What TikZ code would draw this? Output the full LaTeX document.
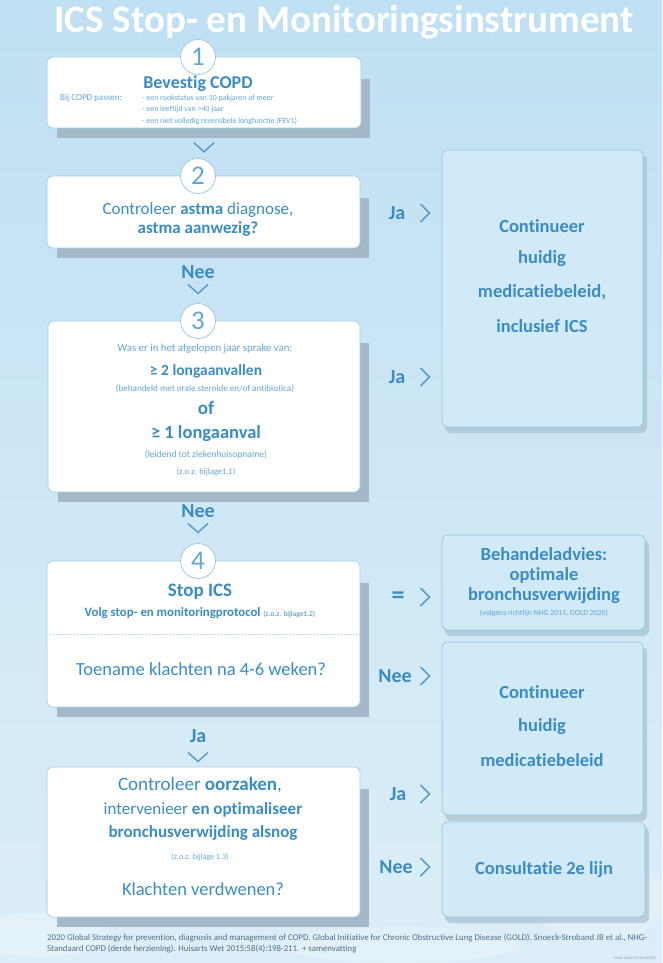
\documentclass[tikz,border=0pt]{standalone}
\usepackage{fontspec}
\setmainfont{Carlito}[Ligatures=NoCommon]
\usetikzlibrary{calc,fit}

\definecolor{bgtop}{HTML}{C0E0F3}
\definecolor{bgbot}{HTML}{DCEEF8}
\definecolor{txt}{HTML}{3A8CC3}
\definecolor{txtl}{HTML}{62A6D4}
\definecolor{rfill}{HTML}{D2EAF8}
\definecolor{rdraw}{HTML}{8FC3E2}
\definecolor{wdraw}{HTML}{9FCBE5}
\definecolor{shad}{HTML}{A3B9C9}
\definecolor{rshad}{HTML}{A7C0D0}
\definecolor{foot}{HTML}{4F6F86}

\newcommand\fs[1]{\fontsize{#1}{#1}\selectfont}
\newcommand\wb[5]{%
  \fill[shad] (#2+10,#3+22) rectangle (#4+9,#5+10);
  \node[wbox, fit={(#2,#3) (#4,#5)}] (#1) {};
}
\newcommand\rb[5]{%
  \fill[rshad, opacity=0.7, rounded corners=6pt] (#2+3,#3+5) rectangle (#4+4,#5+6);
  \node[rbox, fit={(#2,#3) (#4,#5)}] (#1) {};
}

\begin{document}
\begin{tikzpicture}[x=1pt,y=-1pt,
  wbox/.style={draw=wdraw, fill=white, rounded corners=6pt, line width=0.6pt, inner sep=0pt},
  rbox/.style={draw=rdraw, fill=rfill, rounded corners=6pt, line width=0.6pt, inner sep=0pt},
  numc/.style={circle, draw=wdraw, fill=white, line width=0.8pt, minimum size=35pt, inner sep=0pt, text=txtl, font=\fs{27}},
  t/.style={text=txt, inner sep=0pt, align=center},
  tl/.style={text=txtl, inner sep=0pt, align=center},
  chev/.style={draw=txt!85, line width=1.5pt},
  lab/.style={text=txt, font=\bfseries\fs{20}, inner sep=0pt},
  rt/.style={text=txt, inner sep=0pt, align=center, font=\bfseries\fs{18.5}},
  vchev/.pic={\draw[chev] (-10,-4.5) -- (0,4.5) -- (10,-4.5);},
  rchev/.pic={\draw[chev] (-4.5,-9) -- (4.5,0) -- (-4.5,9);},
]
\fill[top color=bgtop, bottom color=bgbot] (0,0) rectangle (662,963);
\useasboundingbox (0,0) rectangle (662,963);
% faint clouds
\fill[white, opacity=0.25] (40,935) ellipse (70 and 22);
\fill[white, opacity=0.2] (600,900) ellipse (70 and 40);
\fill[white, opacity=0.2] (400,945) ellipse (120 and 18);

% title
\node[text=white, font=\bfseries\fs{39}, anchor=base, inner sep=0pt] (title) at (344,33) {ICS Stop- en Monitoringsinstrument};

% box 1
\wb{b1}{47}{57}{361}{128}
\node[numc] (c1) at (198,57) {1};
\node[t, font=\bfseries\fs{18}] (b1t) at (198,84) {Bevestig COPD};
\node[tl, font=\fs{9}, anchor=west] (b1l) at (60,98) {Bij COPD passen:};
\node[tl, font=\fs{7.9}, anchor=west] (b1r1) at (142,98) {- een rookstatus van 10 pakjaren of meer};
\node[tl, font=\fs{7.9}, anchor=west] (b1r2) at (142,109.5) {- een leeftijd van >40 jaar};
\node[tl, font=\fs{7.9}, anchor=west] (b1r3) at (142,121) {- een niet volledig reversibele longfunctie (FEV1)};
\pic at ($(b1.south)+(0,19)$) {vchev};

% box 2
\wb{b2}{47}{176}{360}{248}
\node[numc] (c2) at (198,176) {2};
\node[t, font=\fs{17}] (b2a) at (198,210) {Controleer \textbf{astma} diagnose,};
\node[t, font=\bfseries\fs{17}] (b2b) at (198,229) {astma aanwezig?};
\node[lab] (ja1) at (397,213) {Ja};
\pic at ($(ja1)+(28,0)$) {rchev};
\node[lab] (nee1) at (198,272) {Nee};
\pic at ($(nee1)+(0,17)$) {vchev};

% box 3
\wb{b3}{48}{321}{360}{492}
\node[numc] (c3) at (198,321) {3};
\node[tl, font=\fs{10.8}] (b3a) at (205,349) {Was er in het afgelopen jaar sprake van:};
\node[t, font=\bfseries\fs{15.5}] (b3b) at (206,371) {≥ 2 longaanvallen};
\node[tl, font=\fs{9.1}] (b3c) at (205,389) {(behandeld met orale steroide en/of antibiotica)};
\node[t, font=\bfseries\fs{19}] (b3d) at (206,408) {of};
\node[t, font=\bfseries\fs{18.5}] (b3e) at (206,434) {≥ 1 longaanval};
\node[tl, font=\fs{9.5}] (b3f) at (206,455) {(leidend tot ziekenhuisopname)};
\node[tl, font=\fs{8.5}] (b3g) at (206,472) {(z.o.z. bijlage1.1)};
\node[lab] (ja2) at (397,377) {Ja};
\pic at ($(ja2)+(28,0)$) {rchev};

% right box A
\rb{ra}{442}{150}{643}{427}
\node[rt] (raa) at (542,226) {Continueer};
\node[rt] (rab) at (542,259) {huidig};
\node[rt] (rac) at (542,292) {medicatiebeleid,};
\node[rt] (rad) at (542,326) {inclusief ICS};

\node[lab] (nee2) at (198,511) {Nee};
\pic at ($(nee2)+(0,17)$) {vchev};

% box 4
\wb{b4}{47}{561}{360}{707}
\node[numc] (c4) at (198,561) {4};
\node[t, font=\bfseries\fs{19}] (b4a) at (200,592) {Stop ICS};
\node[t, font=\bfseries\fs{12.8}] (b4b) at (200,613) {Volg stop- en monitoringprotocol {\mdseries\fs{7.5}(z.o.z. bijlage1.2)}};
\draw[wdraw, line width=0.7pt, dash pattern=on 1.5pt off 1.5pt] ($(b4.west)+(3,0)$ |- 0,638) -- ($(b4.east)+(-3,0)$ |- 0,638);
\node[t, font=\fs{18.5}] (b4c) at (201,669) {Toename klachten na 4-6 weken?};

% right box B
\rb{rbb}{442}{535}{645}{630}
\node[rt] (rba) at (544,554) {Behandeladvies:};
\node[rt] (rbb2) at (544,575) {optimale};
\node[rt] (rbc) at (544,596) {bronchusverwijding};
\node[tl, font=\fs{7.8}] (rbd) at (544,613) {(volgens richtlijn NHG 2015, GOLD 2020)};
\node[lab, font=\bfseries\fs{26}] (eq) at (398,598) {=};
\pic at ($(eq)+(27,-1)$) {rchev};

% right box C
\rb{rc}{442}{642}{643}{815}
\node[rt] (rca) at (542,692) {Continueer};
\node[rt] (rcb) at (542,727) {huidig};
\node[rt] (rcc) at (542,760) {medicatiebeleid};
\node[lab] (nee3) at (395,676) {Nee};
\pic at ($(nee3)+(30,0)$) {rchev};

\node[lab] (ja3) at (198,736) {Ja};
\pic at ($(ja3)+(0,21)$) {vchev};

% box 5
\wb{b5}{47}{767}{360}{917}
\node[t, font=\fs{19}] (b5a) at (200,785) {Controleer \textbf{oorzaken},};
\node[t, font=\fs{17}] (b5b) at (203,810) {intervenieer \textbf{en optimaliseer}};
\node[t, font=\bfseries\fs{17}] (b5c) at (203,833) {bronchusverwijding alsnog};
\node[tl, font=\fs{8}] (b5d) at (200,857) {(z.o.z. bijlage 1.3)};
\node[t, font=\fs{18.5}] (b5e) at (203,889) {Klachten verdwenen?};
\node[lab] (ja4) at (398,794) {Ja};
\pic at ($(ja4)+(27,0)$) {rchev};

% right box D
\rb{rd}{442}{822}{645}{917}
\node[rt] (rda) at (544,870) {Consultatie 2e lijn};
\node[lab] (nee4) at (396,867) {Nee};
\pic at ($(nee4)+(29,0)$) {rchev};

% footer
\node[anchor=north west, text=foot, font=\fontsize{8.8}{11}\selectfont, align=left, inner sep=0pt] (foot) at (47,934) {2020 Global Strategy for prevention, diagnosis and management of COPD. Global Initiative for Chronic Obstructive Lung Disease (GOLD). Snoeck-Stroband JB et al., NHG-\\Standaard COPD (derde herziening). Huisarts Wet 2015;58(4):198-211. + samenvatting};
\node[anchor=east, text=foot!70, font=\fs{4}, inner sep=0pt] (fin) at (656,958) {Final: Jul20. PC-NL-10301};
\end{tikzpicture}
\end{document}
